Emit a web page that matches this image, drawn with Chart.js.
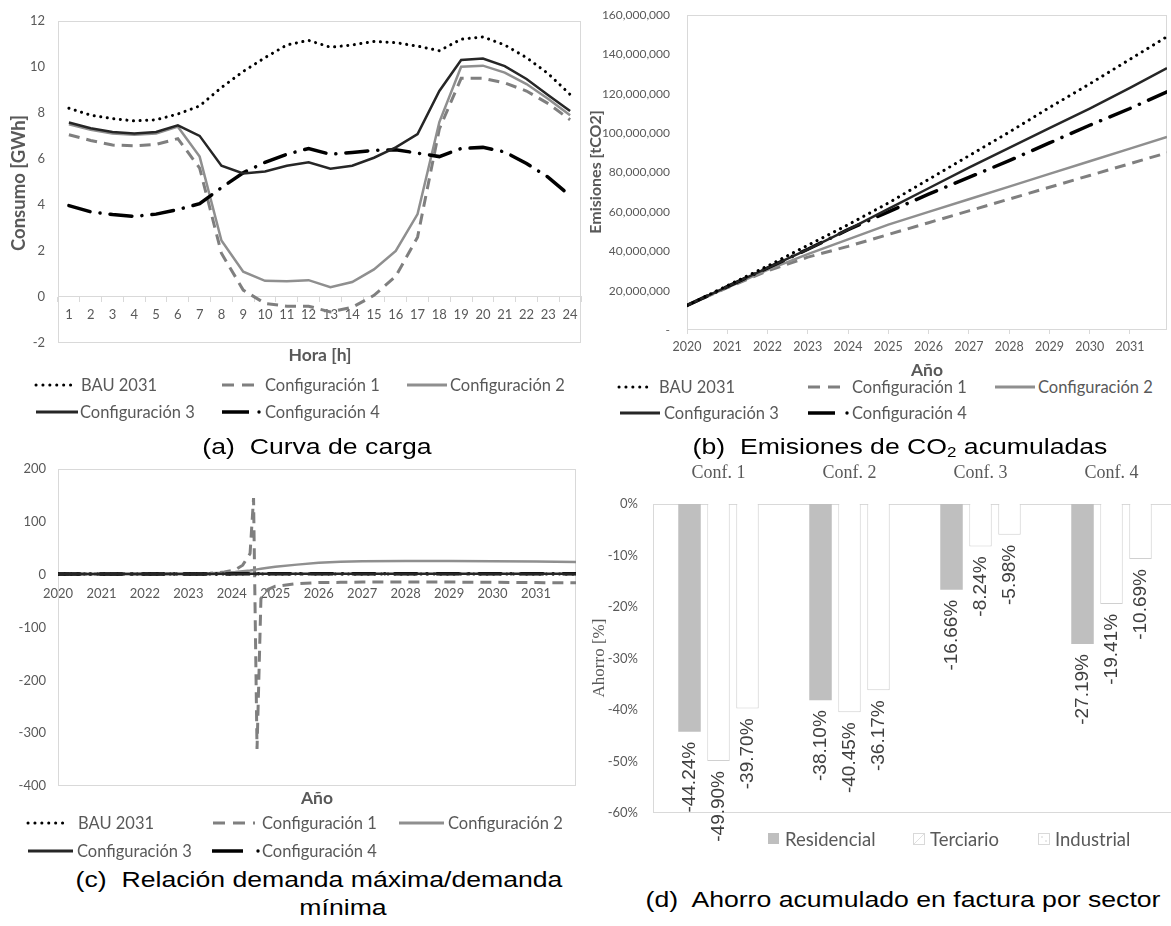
<!DOCTYPE html>
<html>
<head>
<meta charset="utf-8">
<script src="https://cdn.jsdelivr.net/npm/chart.js@4.4.0/dist/chart.umd.min.js"></script>
<style>
html, body { margin: 0; padding: 0; background: #fff; width: 1171px; height: 926px; overflow: hidden; position: relative; }
canvas { position: absolute; }
.t { position: absolute; white-space: pre; font-family: Lato, sans-serif; color: #595959; line-height: 1; }
.leg { font-size: 16.5px; transform: translateY(-50%); }
.tit { font-weight: bold; font-size: 17.5px; transform: translate(-50%, -50%); }
.rot { transform: translate(-50%, -50%) rotate(-90deg); }
.cap { position: absolute; white-space: pre; font-family: "Liberation Sans", Arial, sans-serif; font-size: 22px; color: #000; line-height: 1; transform: translate(-50%, -50%) scaleX(1.21); }
.cap sub { font-size: 14px; vertical-align: -3px; }
svg { position: absolute; overflow: visible; }
</style>
</head>
<body>
<canvas id="cA" width="590" height="380" style="left:0;top:0"></canvas>
<canvas id="cB" width="581" height="380" style="left:590px;top:-20px"></canvas>
<canvas id="cC" width="590" height="390" style="left:0;top:440px"></canvas>
<canvas id="cD" width="600" height="430" style="left:590px;top:455px"></canvas>
<div id="extras"></div>
<script>
// === (a) Curva de carga [GWh] ===
const horas = ['1','2','3','4','5','6','7','8','9','10','11','12','13','14','15','16','17','18','19','20','21','22','23','24'];
const cargaBAU   = [8.2, 7.9, 7.75, 7.65, 7.7, 7.95, 8.3, 9.1, 9.8, 10.4, 10.95, 11.15, 10.85, 10.95, 11.1, 11.05, 10.9, 10.7, 11.2, 11.3, 10.95, 10.4, 9.7, 8.8];
const cargaConf1 = [7.05, 6.8, 6.6, 6.57, 6.63, 6.88, 5.6, 1.9, 0.3, -0.28, -0.4, -0.4, -0.65, -0.45, 0.07, 0.9, 2.6, 7.3, 9.5, 9.5, 9.3, 8.95, 8.4, 7.7];
const cargaConf2 = [7.5, 7.27, 7.1, 7.05, 7.1, 7.4, 6.1, 2.45, 1.1, 0.7, 0.68, 0.73, 0.42, 0.65, 1.2, 2.0, 3.6, 7.6, 10.0, 10.05, 9.75, 9.25, 8.6, 7.9];
const cargaConf3 = [7.58, 7.33, 7.17, 7.1, 7.17, 7.46, 7.0, 5.7, 5.37, 5.45, 5.7, 5.85, 5.57, 5.7, 6.05, 6.5, 7.08, 8.95, 10.3, 10.36, 10.03, 9.47, 8.77, 8.08];
const cargaConf4 = [3.97, 3.7, 3.58, 3.5, 3.6, 3.8, 4.05, 4.75, 5.4, 5.85, 6.2, 6.45, 6.2, 6.28, 6.37, 6.4, 6.25, 6.1, 6.45, 6.5, 6.3, 5.8, 5.2, 4.4];

// === (b) Emisiones de CO2 acumuladas [millones tCO2] ===
const anosEmis  = [2020, 2021, 2022, 2023, 2024, 2025, 2026, 2027, 2028, 2029, 2030, 2031, 2031.92];
const emisBAU   = [12.5, 22.5, 32.5, 43, 53.5, 64.5, 76.5, 88.5, 100.5, 113, 125, 137.5, 149];
const emisConf1 = [12.5, 21.5, 30, 37, 42.5, 48.5, 54.5, 60.5, 66.5, 72.5, 78.5, 84.5, 90];
const emisConf2 = [12.5, 21.5, 30.5, 38.5, 46, 53.5, 60, 66.4, 72.8, 79.3, 85.7, 92.1, 98];
const emisConf3 = [12.5, 22, 31.5, 41, 51, 61.5, 72, 82.5, 92.5, 102.5, 112.5, 123, 133];
const emisConf4 = [12.5, 22, 31.5, 41, 51, 60, 69, 77.5, 86, 95, 104, 112.5, 121];

// === (c) Relacion demanda maxima / demanda minima ===
const anosRel  = [2020, 2021, 2022, 2023, 2023.5, 2023.83, 2024.08, 2024.25, 2024.42, 2024.5, 2024.58, 2024.67, 2024.83, 2025, 2025.5, 2026, 2026.5, 2027, 2028, 2029, 2030, 2031, 2031.92];
const relBAU   = [1.30, 1.31, 1.33, 1.35, 1.36, 1.37, 1.38, 1.38, 1.39, 1.39, 1.39, 1.40, 1.40, 1.40, 1.41, 1.42, 1.43, 1.43, 1.44, 1.45, 1.46, 1.47, 1.48];
const relConf1 = [1.3, 1.35, 1.5, 1.8, 2.5, 5, 9, 18, 40, 145, -330, -45, -28, -22, -17, -15, -14.5, -14, -14, -14, -14.5, -15, -15.5];
const relConf2 = [1.3, 1.35, 1.5, 1.8, 2.5, 3.5, 5, 6.5, 8, 9, 10, 11, 13, 15, 19, 22.5, 24.5, 25.5, 26, 26, 25.5, 25, 24];
const relConf3 = [1.30, 1.32, 1.36, 1.42, 1.46, 1.5, 1.53, 1.55, 1.57, 1.58, 1.59, 1.6, 1.62, 1.64, 1.68, 1.72, 1.75, 1.78, 1.82, 1.86, 1.89, 1.91, 1.93];
const relConf4 = [1.30, 1.32, 1.35, 1.4, 1.44, 1.47, 1.5, 1.52, 1.54, 1.55, 1.56, 1.57, 1.59, 1.61, 1.64, 1.67, 1.7, 1.73, 1.76, 1.79, 1.82, 1.84, 1.86];

// === (d) Ahorro acumulado en factura por sector ===
const confs = ['Conf. 1', 'Conf. 2', 'Conf. 3', 'Conf. 4'];
const ahorroResidencial = [-0.4424, -0.3810, -0.1666, -0.2719];
const ahorroTerciario   = [-0.4990, -0.4045, -0.0824, -0.1941];
const ahorroIndustrial  = [-0.3970, -0.3617, -0.0598, -0.1069];

// === estilos de linea ===
const estilos = {
    bau: { borderColor: '#000000', borderWidth: 3, borderDash: [0.1, 6.5], borderCapStyle: 'round' },
    c1:  { borderColor: '#7f7f7f', borderWidth: 3, borderDash: [11, 7] },
    c2:  { borderColor: '#8f8f8f', borderWidth: 2.5 },
    c3:  { borderColor: '#262626', borderWidth: 2.5 },
    c4:  { borderColor: '#000000', borderWidth: 3.5, borderDash: [22, 10, 0.1, 10], borderCapStyle: 'round' }
};
const gris = '#595959';
const fTick = { family: 'Lato', size: 13 };

function serie(label, data, est, xs) {
    return Object.assign({
        label: label,
        data: xs ? data.map((v, i) => ({ x: xs[i], y: v })) : data,
        pointRadius: 0, tension: 0, fill: false
    }, est);
}

// marco gris alrededor del area de trazado
const marco = {
    id: 'marco',
    beforeDatasetsDraw(chart) {
        const { ctx, chartArea: a } = chart;
        ctx.save();
        ctx.strokeStyle = '#d9d9d9';
        ctx.lineWidth = 1;
        ctx.strokeRect(Math.round(a.left) + 0.5, Math.round(a.top) + 0.5, Math.round(a.right - a.left) - 1, Math.round(a.bottom - a.top) - 1);
        ctx.restore();
    }
};

// crea el grafico y corrige el padding para que el area de trazado caiga donde debe
function grafico(id, config, area) {
    const pad = { top: 0, right: 0, bottom: 0, left: 0 };
    config.options.layout = { padding: pad };
    config.options.responsive = false;
    config.options.animation = false;
    config.options.events = [];
    config.options.plugins = Object.assign({ legend: { display: false }, tooltip: { enabled: false } }, config.options.plugins || {});
    const chart = new Chart(document.getElementById(id), config);
    for (let i = 0; i < 8; i++) {
        const a = chart.chartArea;
        pad.top = Math.max(0, pad.top + area.top - a.top);
        pad.left = Math.max(0, pad.left + area.left - a.left);
        pad.right = Math.max(0, pad.right + a.right - area.right);
        pad.bottom = Math.max(0, pad.bottom + a.bottom - area.bottom);
        chart.update();
    }
    return chart;
}

// 1. Curva de carga
grafico('cA', {
    type: 'line',
    data: {
        labels: horas,
        datasets: [
            serie('Configuración 3', cargaConf3, estilos.c3),
            serie('BAU 2031', cargaBAU, estilos.bau),
            serie('Configuración 4', cargaConf4, estilos.c4),
            serie('Configuración 2', cargaConf2, estilos.c2),
            serie('Configuración 1', cargaConf1, estilos.c1)
        ]
    },
    options: {
        scales: {
            x: {
                position: { y: 0 }, offset: true,
                grid: { drawOnChartArea: false, tickLength: 5, color: '#d9d9d9', offset: true },
                border: { color: '#d9d9d9' },
                ticks: { autoSkip: false, maxRotation: 0, padding: 5, color: gris, font: fTick },
                afterFit(s) { s.height = 0; }
            },
            y: {
                min: -2, max: 12,
                ticks: { stepSize: 2, padding: 13, color: gris, font: fTick },
                grid: { display: false, drawTicks: false }, border: { display: false },
                afterFit(s) { s.width = 58; }
            }
        }
    },
    plugins: [marco]
}, { left: 58, top: 19, right: 581, bottom: 343 });

// 2. Emisiones acumuladas
grafico('cB', {
    type: 'line',
    data: {
        datasets: [
            serie('BAU 2031', emisBAU, estilos.bau, anosEmis),
            serie('Configuración 3', emisConf3, estilos.c3, anosEmis),
            serie('Configuración 4', emisConf4, estilos.c4, anosEmis),
            serie('Configuración 2', emisConf2, estilos.c2, anosEmis),
            serie('Configuración 1', emisConf1, estilos.c1, anosEmis)
        ]
    },
    options: {
        scales: {
            x: {
                type: 'linear', min: 2020, max: 2031.92,
                grid: { drawOnChartArea: false, tickLength: 4, color: '#d9d9d9' }, border: { display: false },
                ticks: { stepSize: 1, includeBounds: false, padding: 5, color: gris, font: { family: 'Lato', size: 12.5 }, maxRotation: 0, callback: v => String(v) },
                afterFit(s) { s.height = 30; }
            },
            y: {
                min: 0, max: 160,
                grid: { display: false, drawTicks: false }, border: { display: false },
                ticks: { stepSize: 20, padding: 17, color: gris, font: { family: 'Lato', size: 12 },
                    callback: v => v === 0 ? '-' : (v * 1e6).toLocaleString('en-US') },
                afterFit(s) { s.width = 97; }
            }
        }
    },
    plugins: [marco]
}, { left: 97, top: 35, right: 577, bottom: 350 });

// 3. Relacion demanda maxima / minima
grafico('cC', {
    type: 'line',
    data: {
        datasets: [
            serie('Configuración 3', relConf3, estilos.c3, anosRel),
            serie('Configuración 4', relConf4, estilos.c4, anosRel),
            serie('BAU 2031', relBAU, estilos.bau, anosRel),
            serie('Configuración 2', relConf2, estilos.c2, anosRel),
            serie('Configuración 1', relConf1, estilos.c1, anosRel)
        ]
    },
    options: {
        scales: {
            x: {
                type: 'linear', position: { y: 0 }, min: 2020, max: 2031.92,
                grid: { display: false, drawTicks: false }, border: { display: false },
                ticks: { stepSize: 1, includeBounds: false, padding: 11, color: gris, font: fTick, maxRotation: 0, callback: v => String(v) },
                afterFit(s) { s.height = 0; }
            },
            y: {
                min: -400, max: 200,
                grid: { display: false, drawTicks: false }, border: { display: false },
                ticks: { stepSize: 100, padding: 12, color: gris, font: fTick },
                afterFit(s) { s.width = 58; }
            }
        }
    },
    plugins: [marco]
}, { left: 58, top: 29, right: 576, bottom: 346 });

// 4. Ahorro por sector (barras con etiqueta vertical)
const etiquetas = {
    id: 'etiquetas',
    afterDatasetsDraw(chart) {
        const ctx = chart.ctx;
        ctx.save();
        ctx.font = '19px "Liberation Sans", Arial, sans-serif';
        ctx.fillStyle = '#404040';
        ctx.textAlign = 'right';
        ctx.textBaseline = 'middle';
        chart.data.datasets.forEach((d, i) => {
            chart.getDatasetMeta(i).data.forEach((bar, j) => {
                ctx.save();
                ctx.translate(bar.x, bar.y + 10);
                ctx.rotate(-Math.PI / 2);
                ctx.fillText((d.data[j] * 100).toFixed(2) + '%', 0, 0);
                ctx.restore();
            });
        });
        ctx.restore();
    }
};

grafico('cD', {
    type: 'bar',
    data: {
        labels: confs,
        datasets: [
            { label: 'Residencial', data: ahorroResidencial, backgroundColor: '#bfbfbf', borderWidth: 0 },
            { label: 'Terciario', data: ahorroTerciario, backgroundColor: '#ffffff', borderColor: '#d0d0d0', borderWidth: 1 },
            { label: 'Industrial', data: ahorroIndustrial, backgroundColor: '#ffffff', borderColor: '#d0d0d0', borderWidth: 1 }
        ]
    },
    options: {
        categoryPercentage: 0.664, barPercentage: 0.776,
        scales: {
            x: {
                position: 'top',
                grid: { display: false, drawTicks: false }, border: { display: false },
                ticks: { padding: 20, color: gris, font: { family: '"Liberation Serif", serif', size: 18 } },
                afterFit(s) { s.height = 49; }
            },
            y: {
                min: -0.6, max: 0,
                grid: { display: false, drawTicks: false }, border: { display: false },
                ticks: { stepSize: 0.1, padding: 15, color: gris, font: fTick, callback: v => Math.round(v * 100) + '%' },
                afterFit(s) { s.width = 63; }
            }
        }
    },
    plugins: [marco, etiquetas]
}, { left: 63, top: 49, right: 587, bottom: 358 });

// === textos, leyendas y titulos ===
const muestras = {
    bau: (x1, x2, y) => `<line x1="${x1}" y1="${y}" x2="${x2}" y2="${y}" stroke="#000" stroke-width="3" stroke-dasharray="0.1 6.8" stroke-linecap="round"/>`,
    c1: (x1, x2, y) => `<line x1="${x1}" y1="${y}" x2="${x2}" y2="${y}" stroke="#7f7f7f" stroke-width="3" stroke-dasharray="12 8"/>`,
    c2: (x1, x2, y) => `<line x1="${x1}" y1="${y}" x2="${x2}" y2="${y}" stroke="#8f8f8f" stroke-width="3"/>`,
    c3: (x1, x2, y) => `<line x1="${x1}" y1="${y}" x2="${x2}" y2="${y}" stroke="#262626" stroke-width="3"/>`,
    c4: (x1, x2, y, dot) => `<line x1="${x1}" y1="${y}" x2="${x2}" y2="${y}" stroke="#000" stroke-width="3.5"/><circle cx="${dot}" cy="${y}" r="1.7" fill="#000"/>`
};
const nombres = { bau: 'BAU 2031', c1: 'Configuración 1', c2: 'Configuración 2', c3: 'Configuración 3', c4: 'Configuración 4' };

function leyenda(y1, y2, pos) {
    let svg = '<svg width="1" height="1" style="left:0;top:0">';
    let html = '';
    pos.forEach(p => {
        const y = p.fila === 1 ? y1 : y2;
        svg += muestras[p.k](p.x1, p.x2, y, p.dot || 0);
        html += `<div class="t leg" style="left:${p.tx}px;top:${y}px">${nombres[p.k]}</div>`;
    });
    return svg + '</svg>' + html;
}
const posLeyendaA = [
    { k: 'bau', fila: 1, x1: 36, x2: 77, tx: 81 },
    { k: 'c1', fila: 1, x1: 222, x2: 255, tx: 265 },
    { k: 'c2', fila: 1, x1: 407, x2: 447, tx: 450 },
    { k: 'c3', fila: 2, x1: 36, x2: 78, tx: 80 },
    { k: 'c4', fila: 2, x1: 222, x2: 249, dot: 259, tx: 265 }
];
const posLeyendaB = [
    { k: 'bau', fila: 1, x1: 619, x2: 652, tx: 659 },
    { k: 'c1', fila: 1, x1: 808, x2: 845, tx: 852 },
    { k: 'c2', fila: 1, x1: 995, x2: 1035, tx: 1038 },
    { k: 'c3', fila: 2, x1: 620, x2: 660, tx: 664 },
    { k: 'c4', fila: 2, x1: 808, x2: 835, dot: 847, tx: 852 }
];
const posLeyendaC = [
    { k: 'bau', fila: 1, x1: 28, x2: 69, tx: 78 },
    { k: 'c1', fila: 1, x1: 213, x2: 255, tx: 262 },
    { k: 'c2', fila: 1, x1: 399, x2: 444, tx: 448 },
    { k: 'c3', fila: 2, x1: 28, x2: 73, tx: 77 },
    { k: 'c4', fila: 2, x1: 212, x2: 243, dot: 258, tx: 262 }
];

let extras = '';
extras += leyenda(385, 412, posLeyendaA);
extras += leyenda(387, 413, posLeyendaB);
extras += leyenda(823, 851, posLeyendaC);

// titulos de ejes
extras += `<div class="t tit rot" style="left:18px;top:183px;font-size:18.5px">Consumo [GWh]</div>`;
extras += `<div class="t tit" style="left:320px;top:355px">Hora [h]</div>`;
extras += `<div class="t tit rot" style="left:595px;top:172px;font-size:16px">Emisiones [tCO2]</div>`;
extras += `<div class="t tit" style="left:927px;top:370px">Año</div>`;
extras += `<div class="t tit" style="left:317px;top:798px">Año</div>`;
extras += `<div class="t rot" style="left:598px;top:658px;font-family:'Liberation Serif',serif;font-size:17px">Ahorro [%]</div>`;

// leyenda (d)
extras += `<svg width="1" height="1" style="left:0;top:0">
  <rect x="768" y="833" width="11" height="11" fill="#bfbfbf"/>
  <rect x="913.5" y="833.5" width="11" height="11" fill="#fff" stroke="#d9d9d9"/>
  <line x1="914" y1="844" x2="924" y2="834" stroke="#e0e0e0"/>
  <rect x="1038.5" y="833.5" width="11" height="11" fill="#fff" stroke="#d9d9d9"/>
  <circle cx="1042" cy="837" r="0.8" fill="#ccc"/><circle cx="1046" cy="841" r="0.8" fill="#ccc"/>
</svg>`;
extras += `<div class="t leg" style="left:785px;top:839px;font-size:18.5px">Residencial</div>`;
extras += `<div class="t leg" style="left:930px;top:839px;font-size:18.5px">Terciario</div>`;
extras += `<div class="t leg" style="left:1055px;top:839px;font-size:18.5px">Industrial</div>`;

// pies de figura
extras += `<div class="cap" style="left:317px;top:447px">(a)  Curva de carga</div>`;
extras += `<div class="cap" style="left:900px;top:447px">(b)  Emisiones de CO<sub>2</sub> acumuladas</div>`;
extras += `<div class="cap" style="left:319px;top:880px">(c)  Relación demanda máxima/demanda</div>`;
extras += `<div class="cap" style="left:343px;top:908px">mínima</div>`;
extras += `<div class="cap" style="left:903px;top:900px">(d)  Ahorro acumulado en factura por sector</div>`;

document.getElementById('extras').innerHTML = extras;
</script>
</body>
</html>
